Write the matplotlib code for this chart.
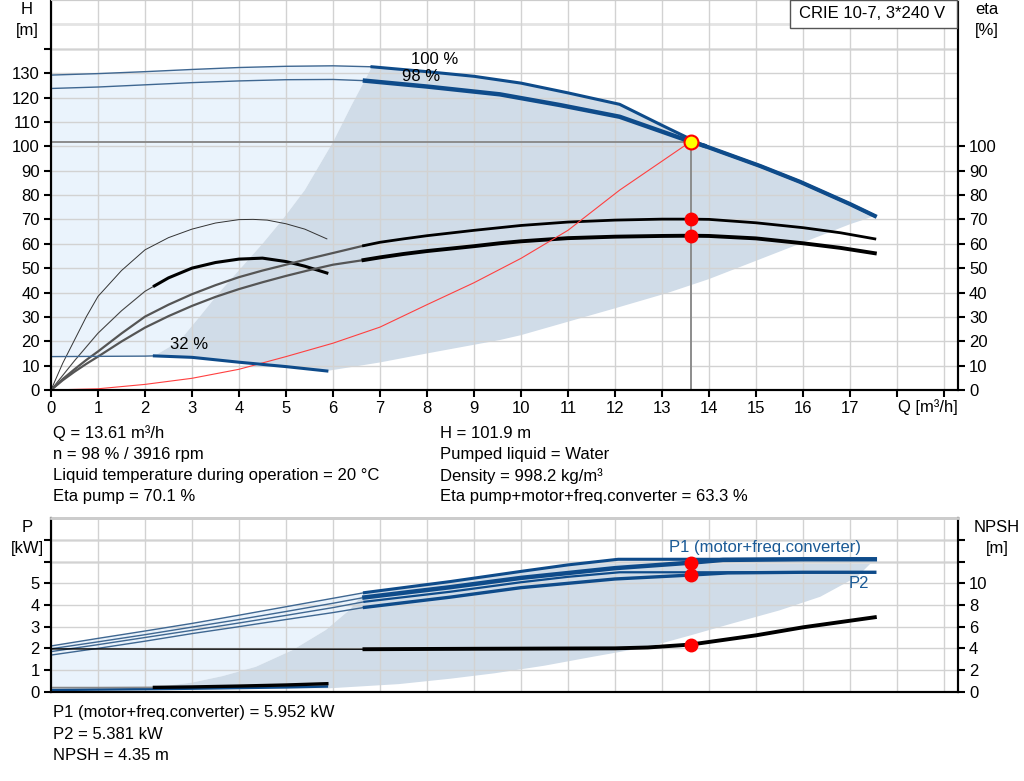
"""
Pump performance curves, CRIE 10-7
"""

import numpy as np
import matplotlib
matplotlib.use('Agg')
import matplotlib.pyplot as plt
from matplotlib.patches import Rectangle

plt.rcParams['font.family'] = ['Liberation Sans', 'DejaVu Sans']
plt.rcParams['font.size'] = 12

W, H = 1024, 781

# ---------------- head curves, H [m] vs Q [m3/h]
q_h100 = [0, 1, 2, 3, 4, 5, 6, 6.83, 8, 9, 10, 11, 12.1, 13.0, 13.9, 15.09, 15.94, 17.0, 17.53]
h100 = [129.2, 129.8, 130.6, 131.5, 132.3, 132.8, 133.0, 132.6, 130.6, 128.7, 125.9, 121.9,
        117.2, 108.6, 100.2, 91.9, 85.4, 76.3, 71.4]
h100_split = 7      # thin part up to this index
h100_merge = 14     # 98 % joins the 100 % curve here

q_h98 = [0, 1, 2, 3, 4, 5, 6, 6.68, 8, 9.55, 10.83, 12.1, 13.61, 13.9]
h98 = [123.7, 124.3, 125.2, 126.1, 126.8, 127.3, 127.4, 126.9, 124.5, 121.3, 116.9, 112.1, 101.9, 100.2]
h98_split = 7

q_h32 = [0, 1, 2, 2.2, 3, 4, 5, 5.87]
h32 = [13.7, 13.8, 13.9, 14.0, 13.4, 11.4, 9.6, 7.8]
h32_split = 3

# system curve
q_sys = [0, 1, 2, 3, 4, 5, 6, 7, 8, 9, 10, 11, 12.1, 13.61]
h_sys = [0, 0.5, 2.3, 4.8, 8.5, 13.7, 19.2, 25.8, 35, 44, 54, 65.5, 82, 101.9]

# efficiencies [%]
q_eta98 = [0, 0.25, 0.5, 0.75, 1, 1.5, 2, 2.5, 3, 3.5, 4, 4.5, 5, 5.5, 6, 6.65,
           7, 7.5, 8, 9, 9.55, 10, 11, 12, 13, 13.61, 14, 15, 16, 16.8, 17.53]
eta_pump98 = [0, 4.5, 8.5, 12.3, 15.8, 23.2, 30.1, 35.0, 39.3, 43.0, 46.3, 49.0, 51.4, 53.9, 56.2, 59.2,
              60.6, 62.0, 63.3, 65.5, 66.6, 67.5, 68.9, 69.7, 70.1, 70.1, 70.0, 68.6, 66.6, 64.5, 62.0]
eta_tot98 = [0, 4.0, 7.5, 10.7, 13.7, 19.9, 25.6, 30.3, 34.5, 38.2, 41.4, 44.2, 46.8, 49.2, 51.4, 53.3,
             54.4, 55.8, 57.0, 59.0, 60.2, 61.0, 62.3, 62.9, 63.2, 63.3, 63.2, 62.2, 60.2, 58.3, 56.1]
eta98_split = 15

q_eta32p = [0, 0.25, 0.5, 0.75, 1, 1.5, 2, 2.5, 3, 3.5, 4, 4.3, 4.6, 5, 5.4, 5.87]
eta_pump32 = [0, 11, 20.5, 30, 38.4, 49, 57.5, 62.5, 66, 68.5, 69.9, 70, 69.7, 68.2, 66, 62]
q_eta32t = [0, 0.5, 1, 1.5, 2, 2.2, 2.5, 3, 3.5, 4, 4.5, 5, 5.4, 5.87]
eta_tot32 = [0, 12, 23.3, 32.5, 40.5, 42.7, 46, 50, 52.3, 53.7, 54.1, 52.7, 50.8, 48]
eta32_split = 5

# operating area (top)
area_left_q = [2.2, 2.73, 3.16, 3.58, 4.04, 4.5, 4.93, 5.4, 6.0, 6.4, 6.83]
area_left_h = [14.0, 20, 30, 40, 50, 60, 70, 82, 101.7, 117, 132.6]
area_low_q = [17.53, 17, 16, 15, 14, 13.1, 12, 11, 10, 9.55, 8, 7, 5.87]
area_low_h = [71.4, 68, 60.5, 53, 45.5, 39.7, 33.5, 28, 22.5, 20.5, 15, 11.3, 7.8]

# duty point
q_op = 13.61
h_op = 101.9
eta_pump_op = 70.1
eta_tot_op = 63.3

# ---------------- power [kW] and NPSH [m]
q_p1_100 = [0, 1, 2, 3, 4, 5, 6, 6.67, 8.49, 10, 11, 12.07, 14, 16, 17.53]
p1_100 = [2.11, 2.46, 2.8, 3.15, 3.53, 3.92, 4.31, 4.57, 5.08, 5.55, 5.85, 6.11, 6.11, 6.11, 6.11]
q_p1_98 = [0, 1, 2, 3, 4, 5, 6, 6.67, 8.49, 10, 12, 13.61, 14.3, 16, 17.53]
p1_98 = [1.98, 2.30, 2.63, 2.98, 3.33, 3.7, 4.08, 4.35, 4.82, 5.25, 5.7, 5.952, 6.08, 6.11, 6.11]
q_p2_100 = [0, 1, 2, 3, 4, 5, 6, 6.67, 8.49, 10, 11, 12.1, 14, 16, 17.53]
p2_100 = [1.85, 2.17, 2.5, 2.83, 3.17, 3.52, 3.88, 4.15, 4.61, 5.05, 5.3, 5.51, 5.51, 5.51, 5.51]
q_p2_98 = [0, 1, 2, 3, 4, 5, 6, 6.67, 8.49, 10, 12, 13.61, 14.4, 16, 17.53]
p2_98 = [1.69, 2.0, 2.33, 2.68, 3.0, 3.33, 3.65, 3.89, 4.36, 4.8, 5.2, 5.381, 5.48, 5.51, 5.51]
p_split = 7

q_p32 = [0, 1, 2.2, 3, 4, 5, 5.87]
p1_32 = [0.19, 0.19, 0.2, 0.22, 0.26, 0.31, 0.37]
p2_32 = [0.08, 0.1, 0.12, 0.14, 0.17, 0.2, 0.24]
p32_split = 2

q_npsh = [0, 3, 6.67, 9, 12, 12.7, 13.61, 15, 16, 17.53]
npsh = [3.95, 3.93, 3.92, 3.96, 4.0, 4.08, 4.35, 5.2, 5.94, 6.87]
npsh_split = 2

parea_left_q = [2.2, 3.0, 3.65, 4.36, 5.14, 5.85, 6.35, 6.67]
parea_left_p = [0.2, 0.42, 0.72, 1.15, 1.92, 2.85, 3.77, 4.57]
parea_low_q = [17.53, 17.16, 16.37, 15.5, 14.5, 13.61, 12.74, 11.5, 10.5, 9.44, 8.5, 7.4, 5.87]
parea_low_p = [6.11, 5.31, 4.38, 3.75, 3.15, 2.6, 2.08, 1.6, 1.2, 0.85, 0.6, 0.35, 0.15]

p1_op = 5.952
p2_op = 5.381
npsh_op = 4.35

x_labels = [str(i) for i in range(18)] + ['', '']

info_left = ['Q = 13.61 m³/h', 'n = 98 % / 3916 rpm',
             'Liquid temperature during operation = 20 °C', 'Eta pump = 70.1 %']
info_right = ['H = 101.9 m', 'Pumped liquid = Water', 'Density = 998.2 kg/m³',
              'Eta pump+motor+freq.converter = 63.3 %']
info_bottom = ['P1 (motor+freq.converter) = 5.952 kW', 'P2 = 5.381 kW', 'NPSH = 4.35 m']

BLUE = '#0e4b8a'
THIN = '#3f6791'
DARK = '#d0dce8'
LIGHT = '#eaf3fc'
GRID = '#d2d2d2'


def px(x, y):
    return x / W, 1 - y / H


fig = plt.figure(figsize=(W / 100, H / 100), dpi=100)
ax1 = fig.add_axes([51 / W, 1 - 390 / H, 907 / W, 390 / H])
ax2 = fig.add_axes([51 / W, 1 - 691.7 / H, 907 / W, 173.4 / H])

# ---------------- top chart
lq, lh = np.array(area_left_q), np.array(area_left_h)
light_q = np.concatenate([q_h100[:h100_split + 1], lq[::-1], q_h32[:h32_split + 1][::-1]])
light_h = np.concatenate([h100[:h100_split + 1], lh[::-1], h32[:h32_split + 1][::-1]])
ax1.fill(light_q, light_h, color=LIGHT, lw=0, zorder=1)
dark_q = np.concatenate([lq, q_h100[h100_split + 1:], area_low_q[1:], q_h32[h32_split:][::-1][1:]])
dark_h = np.concatenate([lh, h100[h100_split + 1:], area_low_h[1:], h32[h32_split:][::-1][1:]])
ax1.fill(dark_q, dark_h, color=DARK, lw=0, zorder=1)

ax1.axhline(140, color='#e4e4e4', lw=2, zorder=1.4)
ax1.axhline(150, color='#e4e4e4', lw=2, zorder=1.4)

# duty point lines
ax1.plot([0, q_op], [h_op, h_op], color='#8c8c8c', lw=1.4, zorder=2)
ax1.plot([q_op, q_op], [0, h_op], color='#8c8c8c', lw=1.4, zorder=2)

# efficiencies
ax1.plot(q_eta32p, eta_pump32, color='#333333', lw=0.7, zorder=3)
ax1.plot(q_eta32t[:eta32_split + 1], eta_tot32[:eta32_split + 1], color='#444444', lw=0.8, zorder=3)
ax1.plot(q_eta32t[eta32_split:], eta_tot32[eta32_split:], color='black', lw=2.2, zorder=3)
ax1.plot(q_eta98[:eta98_split + 1], eta_pump98[:eta98_split + 1], color='#555555', lw=1.6, zorder=3)
ax1.plot(q_eta98[:eta98_split + 1], eta_tot98[:eta98_split + 1], color='#555555', lw=1.6, zorder=3)
ax1.plot(q_eta98[eta98_split:], eta_pump98[eta98_split:], color='black', lw=2.0, zorder=3)
ax1.plot(q_eta98[eta98_split:], eta_tot98[eta98_split:], color='black', lw=2.8, zorder=3)

# system curve
ax1.plot(q_sys, h_sys, color='#ff4040', lw=0.8, zorder=3)

# head curves
ax1.plot(q_h32[:h32_split + 1], h32[:h32_split + 1], color=THIN, lw=1.0, zorder=4)
ax1.plot(q_h32[h32_split:], h32[h32_split:], color=BLUE, lw=2.2, zorder=4)
ax1.plot(q_h100[:h100_split + 1], h100[:h100_split + 1], color=THIN, lw=1.0, zorder=4)
ax1.plot(q_h100[h100_split:], h100[h100_split:], color=BLUE, lw=2.2, zorder=4)
ax1.plot(q_h100[h100_merge:], h100[h100_merge:], color=BLUE, lw=3.0, zorder=4)
ax1.plot(q_h98[:h98_split + 1], h98[:h98_split + 1], color=THIN, lw=1.0, zorder=4)
ax1.plot(q_h98[h98_split:], h98[h98_split:], color=BLUE, lw=3.2, zorder=4)

ax1.plot([q_op, q_op], [eta_pump_op, eta_tot_op], 'o', color='#ff0000', ms=9, zorder=5)
ax1.plot(q_op, h_op, 'o', mfc='#ffff00', mec='#ff0000', mew=1.5, ms=10, zorder=5)

ax1.text(8.17, 135.6, '100 %', ha='center', va='center', zorder=6)
ax1.text(7.87, 128.6, '98 %', ha='center', va='center', zorder=6)
ax1.text(2.94, 18.5, '32 %', ha='center', va='center', zorder=6)

ax1.set_xlim(0, 19.3)
ax1.set_ylim(0, 160)
ax1.set_xticks(range(20))
ax1.set_xticklabels(x_labels)
ax1.set_yticks(range(0, 150, 10))
ax1.set_yticklabels([str(v) for v in range(0, 140, 10)] + [''])
ax1.grid(True, color=GRID, lw=1)
ax1.tick_params(direction='out', length=5, width=1.5, pad=3)

ax1t = ax1.twinx()
ax1t.set_ylim(0, 160)
ax1t.set_yticks(range(0, 110, 10))
ax1t.tick_params(direction='out', length=5, width=1.5, pad=3)

for a in (ax1, ax1t):
    a.spines['top'].set_color('#cccccc')
    a.spines['left'].set_linewidth(1.5)
    a.spines['right'].set_linewidth(1.5)
    a.spines['bottom'].set_linewidth(1.5)

# ---------------- bottom chart
pq, pp = np.array(parea_left_q), np.array(parea_left_p)
plight_q = np.concatenate([q_p1_100[:p_split + 1], pq[::-1], q_p32[:p32_split + 1][::-1]])
plight_p = np.concatenate([p1_100[:p_split + 1], pp[::-1], p1_32[:p32_split + 1][::-1]])
ax2.fill(plight_q, plight_p, color=LIGHT, lw=0, zorder=1)
pdark_q = np.concatenate([pq, q_p1_100[p_split + 1:], parea_low_q[1:]])
pdark_p = np.concatenate([pp, p1_100[p_split + 1:], parea_low_p[1:]])
ax2.fill(pdark_q, pdark_p, color=DARK, lw=0, zorder=1)

ax2.axhline(6, color='#e4e4e4', lw=2, zorder=1.4)
ax2.axhline(7, color='#e4e4e4', lw=2, zorder=1.4)

ax2.plot(q_p32, p2_32, color=BLUE, lw=1.8, zorder=3)
ax2.plot(q_p32[:p32_split + 1], p1_32[:p32_split + 1], color='#888888', lw=1.2, zorder=3)
ax2.plot(q_p32[p32_split:], p1_32[p32_split:], color='black', lw=2.4, zorder=3)

for qq, pv, lw in ((q_p1_100, p1_100, 2.2), (q_p1_98, p1_98, 3.2),
                   (q_p2_100, p2_100, 1.6), (q_p2_98, p2_98, 2.4)):
    ax2.plot(qq[:p_split + 1], pv[:p_split + 1], color=THIN, lw=1.0, zorder=3)
    ax2.plot(qq[p_split:], pv[p_split:], color=BLUE, lw=lw, zorder=3)

ax2t = ax2.twinx()
ax2t.plot(q_npsh[:npsh_split + 1], npsh[:npsh_split + 1], color='black', lw=1.0, zorder=3)
ax2t.plot(q_npsh[npsh_split:], npsh[npsh_split:], color='black', lw=2.8, zorder=3)
ax2t.plot(q_op, npsh_op, 'o', color='#ff0000', ms=9, zorder=5)
ax2.plot([q_op, q_op], [p1_op, p2_op], 'o', color='#ff0000', ms=9, zorder=5)

ax2.text(15.2, 6.63, 'P1 (motor+freq.converter)', color='#1a5a96', ha='center', va='center')
ax2.text(17.2, 5.0, 'P2', color='#1a5a96', ha='center', va='center')

ax2.set_xlim(0, 19.3)
ax2.set_ylim(0, 8)
ax2.set_xticks(range(20))
ax2.set_xticklabels([])
ax2.set_yticks(range(0, 8))
ax2.set_yticklabels([str(v) for v in range(6)] + ['', ''])
ax2.grid(True, color=GRID, lw=1)
ax2.tick_params(axis='x', length=0)
ax2.tick_params(axis='y', direction='out', length=5, width=1.5, pad=3)

ax2t.set_ylim(0, 16)
ax2t.set_yticks(range(0, 16, 2))
ax2t.set_yticklabels([str(v) for v in range(0, 12, 2)] + ['', ''])
ax2t.tick_params(direction='out', length=5, width=1.5, pad=3)

for a in (ax2, ax2t):
    a.spines['top'].set_color('#cccccc')
    a.spines['top'].set_linewidth(2)
    a.spines['left'].set_linewidth(1.5)
    a.spines['right'].set_linewidth(1.5)
    a.spines['bottom'].set_linewidth(1.5)

# ---------------- title box, axis captions and info text
fig.patches.append(Rectangle(px(790, 28), 167 / W, 28 / H, transform=fig.transFigure,
                             fc='white', ec='#555555', lw=1, zorder=10))
fig.text(*px(872, 14), 'CRIE 10-7, 3*240 V', ha='center', va='center', zorder=11)

fig.text(*px(27, 10), 'H', ha='center', va='center')
fig.text(*px(27, 30), '[m]', ha='center', va='center')
fig.text(*px(987, 10), 'eta', ha='center', va='center')
fig.text(*px(987, 30), '[%]', ha='center', va='center')
fig.text(*px(898, 407), 'Q [m³/h]', ha='left', va='center')
fig.text(*px(27, 527), 'P', ha='center', va='center')
fig.text(*px(27, 548), '[kW]', ha='center', va='center')
fig.text(*px(997, 527), 'NPSH', ha='center', va='center')
fig.text(*px(997, 548), '[m]', ha='center', va='center')

for i, s in enumerate(info_left):
    fig.text(*px(53, 433 + 21.3 * i), s, ha='left', va='center')
for i, s in enumerate(info_right):
    fig.text(*px(440, 433 + 21.3 * i), s, ha='left', va='center')
for i, s in enumerate(info_bottom):
    fig.text(*px(53, 713 + 21.5 * i), s, ha='left', va='center')

plt.savefig('out.png', dpi=100)
